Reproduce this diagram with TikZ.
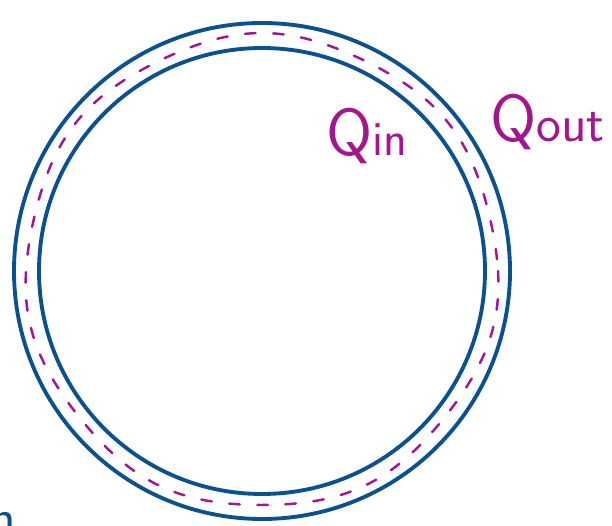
\documentclass[tikz,border=0pt]{standalone}
\usepackage{tikz}
\usetikzlibrary{calc}
\definecolor{penblue}{HTML}{0B5190}
\definecolor{penmag}{HTML}{A3168E}

\begin{document}
\begin{tikzpicture}[x=0.02cm,y=-0.02cm]
	\tikzset{wall/.style={penblue, line width=2.2pt},
	         flux/.style={penmag, line width=1.4pt, line cap=round, dash pattern=on 6pt off 10pt},
	         heat/.style={penmag, font=\sffamily\fontsize{38}{38}\selectfont, inner sep=0pt}}
	\useasboundingbox (0,0) rectangle (612,526);
	% pipe walls
	\coordinate (c) at (262,271);
	\draw[wall] (c) circle [radius=248];
	\draw[wall] (c) circle [radius=223];
	% heat flux line inside the wall
	\draw[flux] plot[domain=0:360, samples=180, smooth] ({262+(236+2*sin(7*\x))*cos(\x)},{271+(236+2*sin(7*\x))*sin(\x)});
	% labels
	\node[heat, anchor=base west] (qin) at (326,156) {Q{\fontsize{28}{28}\selectfont in}};
	\node[heat, anchor=base west] (qout) at (490,142) {Q{\fontsize{30}{30}\selectfont out}};
	\node[penblue, font=\sffamily\fontsize{30}{30}\selectfont, anchor=base east, inner sep=0pt] (cut) at (16,536) {n};
\end{tikzpicture}
\end{document}
